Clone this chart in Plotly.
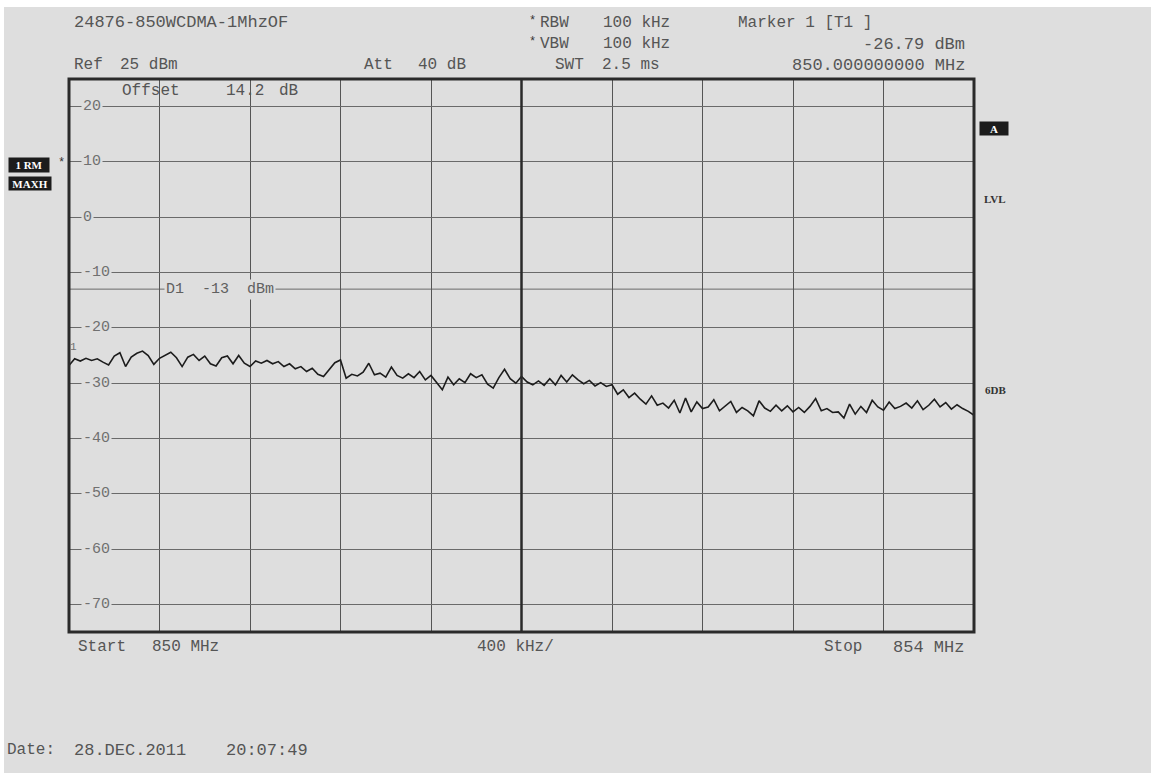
import numpy as np
import plotly.graph_objects as go

# ---------------- data ----------------
start_mhz = 850.0
stop_mhz = 854.0
level_dbm = [
    -26.8, -25.6, -26.0, -25.5, -25.9, -25.6, -26.2, -26.7, -25.1, -24.5,
    -27.0, -25.3, -24.6, -24.2, -25.0, -26.6, -25.5, -25.0, -24.4, -25.4,
    -27.0, -25.3, -24.8, -25.9, -25.1, -26.5, -26.9, -25.4, -25.1, -26.5,
    -25.0, -26.4, -27.0, -26.0, -26.4, -25.9, -26.5, -26.1, -27.0, -26.5,
    -27.4, -27.0, -27.9, -27.3, -28.4, -28.8, -27.6, -26.3, -25.8, -29.1,
    -28.4, -28.7, -28.0, -26.4, -28.5, -28.2, -28.9, -27.1, -28.6, -29.1,
    -28.3, -29.0, -27.9, -29.4, -28.6, -29.8, -31.2, -28.9, -30.3, -29.2,
    -29.9, -28.3, -29.0, -28.5, -30.2, -30.9, -29.0, -27.5, -29.2, -30.0,
    -28.8, -29.8, -30.3, -29.6, -30.4, -29.2, -30.3, -28.6, -29.8, -28.5,
    -29.4, -30.1, -29.5, -30.5, -29.9, -30.6, -30.3, -32.0, -31.2, -32.6,
    -31.8, -32.9, -33.8, -32.3, -34.0, -33.6, -34.5, -33.1, -35.4, -32.7,
    -35.2, -33.4, -34.6, -34.3, -33.0, -35.0, -34.1, -33.3, -35.3, -34.4,
    -35.0, -35.9, -33.2, -34.5, -35.1, -34.0, -35.0, -34.1, -35.2, -34.4,
    -35.3, -34.2, -32.8, -35.0, -34.6, -35.3, -35.2, -36.3, -33.8, -35.6,
    -34.2, -35.3, -33.1, -34.3, -34.9, -33.4, -34.6, -34.2, -33.6, -34.5,
    -33.2, -34.8, -34.0, -32.9, -34.3, -33.5, -34.7, -33.9, -34.6, -35.1,
    -35.8,
]
freq_mhz = np.linspace(start_mhz, stop_mhz, len(level_dbm))
grid_levels = [20, 10, 0, -10, -20, -30, -40, -50, -60, -70]
grid_labels = ["20", "10", "0", "-10", "-20", "-30", "-40", "-50", "-60", "-70"]
display_line_dbm = -13
center_mhz = 852.0

# ---------------- layout helpers ----------------
W, H = 1151, 773
L, R, T, B = 69, 974, 79, 632
BG = "#dedede"
TXT = "#555555"
MONO = "Liberation Mono, Courier New, monospace"


def px(x):
    return (x - L) / (R - L)


def py(y):
    return (B - y) / (B - T)


fig = go.Figure()
fig.add_trace(go.Scatter(
    x=freq_mhz, y=level_dbm, mode="lines",
    line=dict(color="#1c1c1c", width=1.6), hoverinfo="skip", showlegend=False,
))

annotations = []


def txt(s, x, y, size=16, anchor="left", color=TXT, font=MONO, **kw):
    annotations.append(dict(
        text=s, x=px(x), y=py(y), xref="paper", yref="paper",
        xanchor=anchor, yanchor="middle", showarrow=False,
        font=dict(family=font, size=size, color=color), **kw))


# header
txt("24876-850WCDMA-1MhzOF", 72, 23, size=17)
txt("*", 527, 21, size=12, color="#333")
txt("RBW", 538, 23)
txt("100 kHz", 601, 23)
txt("Marker 1 [T1 ]", 736, 23)
txt("*", 527, 42, size=12, color="#333")
txt("VBW", 538, 44)
txt("100 kHz", 601, 44)
txt("-26.79 dBm", 967, 44, anchor="right", size=17)
txt("Ref", 72, 65)
txt("25 dBm", 118, 65)
txt("Att", 362, 65)
txt("40 dB", 416, 65)
txt("SWT", 553, 65)
txt("2.5 ms", 600, 65)
txt("850.000000000 MHz", 967, 65, anchor="right", size=17)

# in-plot text
txt("Offset", 120, 91)
txt("14.2", 224, 91)
txt("dB", 277, 91)

# bottom
txt("Start", 76, 647)
txt("850 MHz", 150, 647)
txt("400 kHz/", 475, 647)
txt("Stop", 822, 647)
txt("854 MHz", 966, 647, anchor="right", size=17)
txt("Date:", 5, 750)
txt("28.DEC.2011", 72, 750, size=17)
txt("20:07:49", 224, 750, size=17)

# grid labels with background cut-out
for lv, lab in zip(grid_levels, grid_labels):
    annotations.append(dict(
        text=lab, x=px(81), y=lv, xref="paper", yref="y",
        xanchor="left", yanchor="middle", showarrow=False,
        font=dict(family=MONO, size=15, color="#707070"),
        bgcolor=BG, borderpad=1))

# display line label
annotations.append(dict(
    text="D1  -13  dBm", x=px(164), y=display_line_dbm, xref="paper", yref="y",
    xanchor="left", yanchor="middle", showarrow=False,
    font=dict(family=MONO, size=15, color="#606060"), bgcolor=BG, borderpad=1))

# marker number
txt("1", 68, 347, size=11, color="#707070")


def box(s, xc, yc, w, h):
    annotations.append(dict(text="<b>%s</b>" % s, x=px(xc), y=py(yc), xref="paper", yref="paper",
                            xanchor="center", yanchor="middle",
                            showarrow=False, bgcolor="#1c1c1c", width=w, height=h, borderpad=1,
                            font=dict(family="Liberation Serif", size=11, color="white")))


box("1 RM", 29, 165, 38, 12)
box("MAXH", 30, 183, 40, 11)
box("A", 994, 128, 26, 11)
txt("*", 56, 163, size=12, color="#333")
txt("<b>LVL</b>", 995, 199, size=11, anchor="center", color="#333", font="Liberation Serif")
txt("<b>6DB</b>", 995, 390, size=11, anchor="center", color="#333", font="Liberation Serif")

shapes = [
    # page background with white strips on top and left
    dict(type="rect", xref="paper", yref="paper", x0=px(4), x1=px(W + 5), y0=py(H + 5), y1=py(7),
         fillcolor=BG, line=dict(width=0), layer="below"),
    # display line D1
    dict(type="line", xref="paper", yref="y", x0=0, x1=1, y0=display_line_dbm, y1=display_line_dbm,
         line=dict(color="#6a6a6a", width=1), layer="below"),
    # centre line
    dict(type="line", xref="x", yref="paper", x0=center_mhz, x1=center_mhz, y0=0, y1=1,
         line=dict(color="#2a2a2a", width=2.5)),
    # frame
    dict(type="rect", xref="paper", yref="paper", x0=0, x1=1, y0=0, y1=1,
         line=dict(color="#2a2a2a", width=3)),
]

fig.update_layout(
    width=W, height=H,
    margin=dict(l=L, r=W - R, t=T, b=H - B, pad=0),
    paper_bgcolor="white", plot_bgcolor=BG,
    showlegend=False,
    xaxis=dict(range=[start_mhz, stop_mhz], tick0=start_mhz, dtick=0.4, showgrid=True,
               gridcolor="#555555", gridwidth=1, showticklabels=False, zeroline=False,
               ticks="", showline=False, fixedrange=True),
    yaxis=dict(range=[-75, 25], tick0=0, dtick=10, showgrid=True,
               gridcolor="#6a6a6a", gridwidth=1, showticklabels=False, zeroline=False,
               ticks="", showline=False, fixedrange=True),
    annotations=annotations,
    shapes=shapes,
)

fig.write_html("out.html", config={"displayModeBar": False},
               post_script="document.body.style.margin='0px';")
